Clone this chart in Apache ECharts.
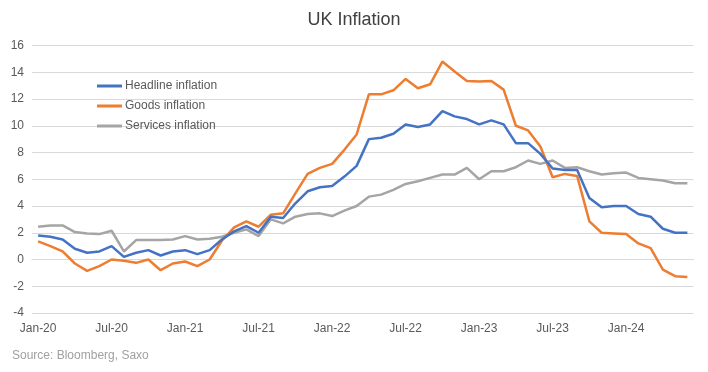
<!DOCTYPE html>
<html>
<head>
<meta charset="utf-8">
<script src="https://cdn.jsdelivr.net/npm/echarts@6/dist/echarts.min.js"></script>
<style>html,body{margin:0;padding:0;background:#fff}#c{width:708px;height:372px}</style>
</head>
<body>
<div id="c"></div>
<script>
const months = [];
const mNames = ['Jan','Feb','Mar','Apr','May','Jun','Jul','Aug','Sep','Oct','Nov','Dec'];
for (let y = 20; y <= 24; y++) {
  for (let m = 0; m < 12; m++) {
    if (y === 24 && m > 5) break;
    months.push(mNames[m] + '-' + y);
  }
}
const headline = [
  1.8,1.7,1.5,0.8,0.5,0.6,1.0,0.2,0.5,0.7,0.3,0.6,
  0.7,0.4,0.7,1.5,2.1,2.5,2.0,3.2,3.1,4.2,5.1,5.4,
  5.5,6.2,7.0,9.0,9.1,9.4,10.1,9.9,10.1,11.1,10.7,10.5,
  10.1,10.4,10.1,8.7,8.7,7.9,6.8,6.7,6.7,4.6,3.9,4.0,
  4.0,3.4,3.2,2.3,2.0,2.0
];
const goods = [
  1.35,1.0,0.6,-0.3,-0.85,-0.5,0.0,-0.1,-0.25,0.0,-0.8,-0.3,
  -0.15,-0.5,0.0,1.4,2.4,2.85,2.45,3.35,3.45,4.95,6.4,6.85,
  7.15,8.2,9.35,12.35,12.35,12.65,13.5,12.8,13.1,14.8,14.05,13.35,
  13.3,13.35,12.7,10.0,9.65,8.45,6.15,6.4,6.25,2.85,2.0,1.95,
  1.9,1.2,0.85,-0.75,-1.25,-1.3
];
const services = [
  2.45,2.55,2.55,2.05,1.95,1.9,2.15,0.6,1.45,1.45,1.45,1.5,
  1.75,1.5,1.55,1.7,2.0,2.25,1.75,3.0,2.7,3.2,3.4,3.45,
  3.25,3.65,4.0,4.7,4.85,5.2,5.65,5.85,6.1,6.35,6.35,6.85,
  6.0,6.6,6.6,6.9,7.4,7.15,7.4,6.85,6.9,6.6,6.35,6.45,
  6.5,6.1,6.0,5.9,5.7,5.7
];
const seriesNames = ['Headline inflation','Goods inflation','Services inflation'];
const colors = ['#4472C4','#ED7D31','#A5A5A5'];
const FONT = 'Liberation Sans, Arial, sans-serif';

const chart = echarts.init(document.getElementById('c'), null, {renderer:'canvas'});
chart.setOption({
  animation: false,
  backgroundColor: '#fff',
  title: [
    {text: 'UK Inflation', left: 'center', top: 11, padding: 0,
     textStyle: {fontFamily: FONT, fontSize: 18, fontWeight: 'normal', color: '#404040'}},
    {text: 'Source: Bloomberg, Saxo', left: 12, top: 350, padding: 0,
     textStyle: {fontFamily: FONT, fontSize: 12, fontWeight: 'normal', color: '#a0a0a0'}}
  ],
  legend: {
    orient: 'vertical', left: 97, top: 80, itemGap: 8, padding: 0,
    itemWidth: 25, itemHeight: 3, icon: 'rect',
    textStyle: {fontFamily: FONT, fontSize: 12, color: '#595959', padding: [0,0,0,-2]},
    data: seriesNames
  },
  grid: {left: 32, right: 14.5, top: 45.5, bottom: 59, containLabel: false},
  xAxis: {
    type: 'category', data: months, boundaryGap: true,
    axisLine: {show: true, lineStyle: {color: '#d9d9d9'}},
    axisTick: {show: false},
    axisLabel: {interval: 5, fontFamily: FONT, fontSize: 12, color: '#595959', margin: 10},
    splitLine: {show: false}
  },
  yAxis: {
    type: 'value', min: -4, max: 16, interval: 2,
    axisLine: {show: false}, axisTick: {show: false},
    axisLabel: {fontFamily: FONT, fontSize: 12, color: '#595959', margin: 8},
    splitLine: {lineStyle: {color: '#d9d9d9', width: 1}}
  },
  series: [headline, goods, services].map((d, i) => ({
    name: seriesNames[i], type: 'line', data: d, symbol: 'none',
    lineStyle: {width: 2.5, color: colors[i]}, itemStyle: {color: colors[i]},
    z: 3 - i
  }))
});
</script>
</body>
</html>
